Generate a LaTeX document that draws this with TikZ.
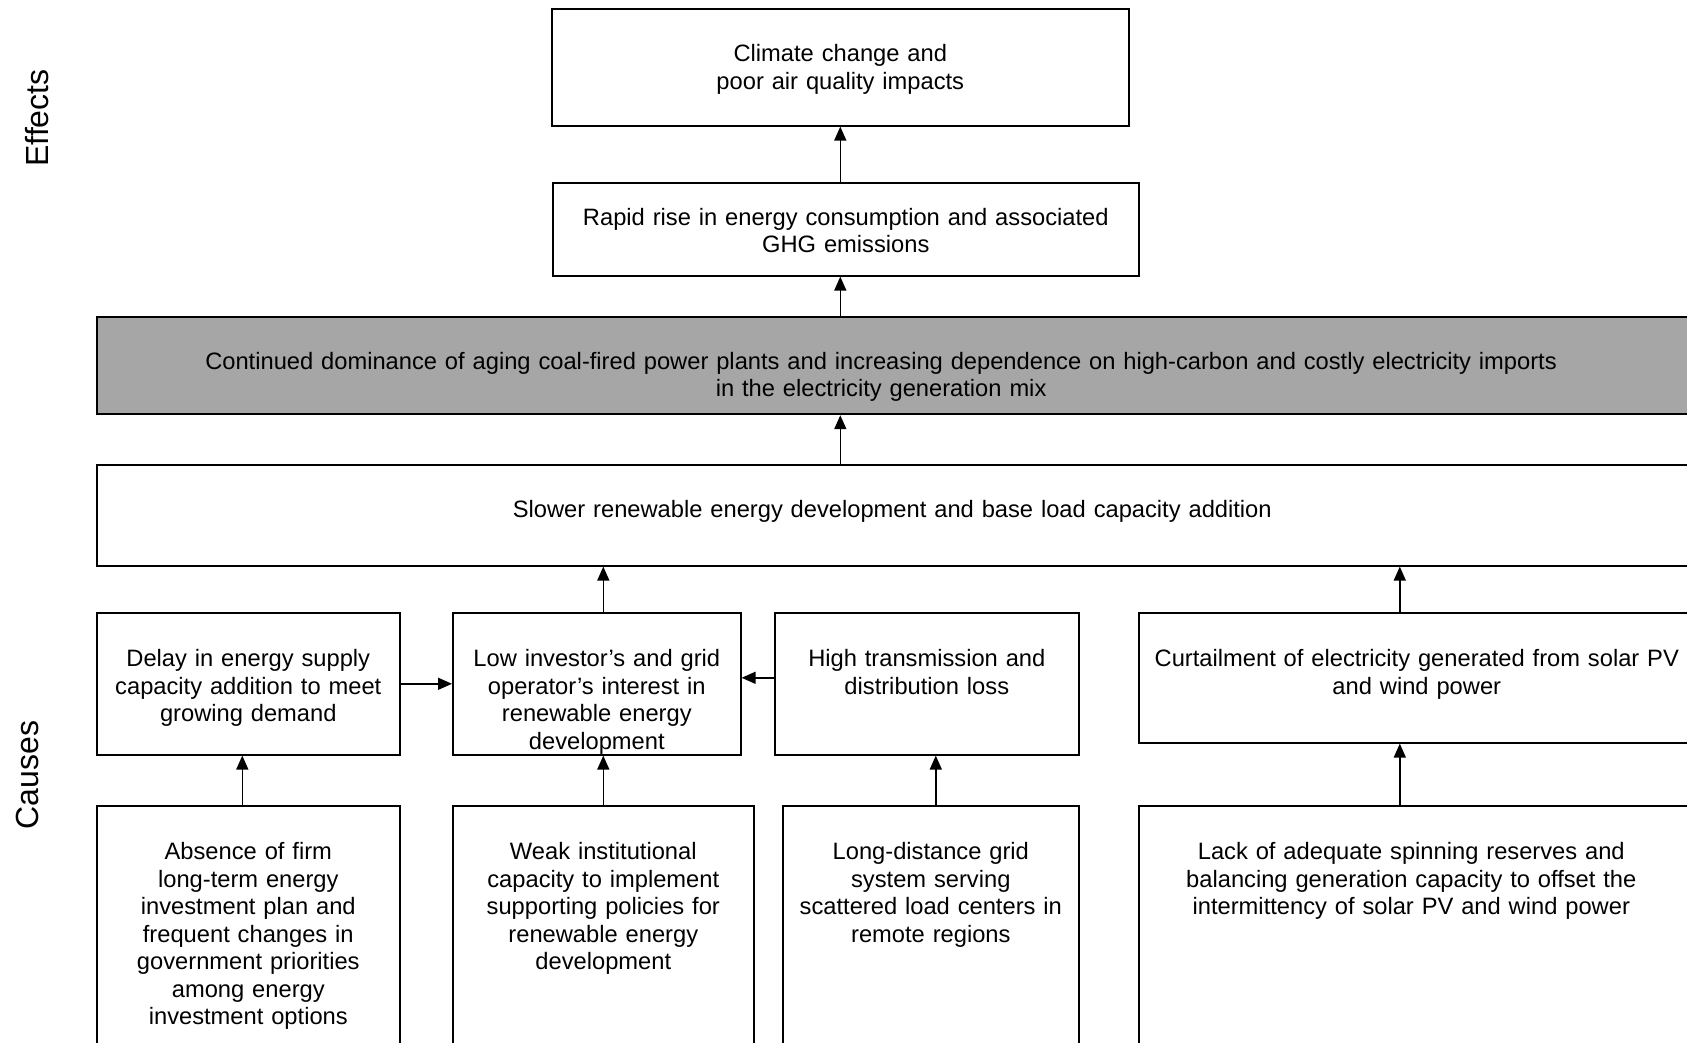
\documentclass[tikz,border=0pt]{standalone}
\usepackage{fontspec}
\setmainfont{Liberation Sans}
\usetikzlibrary{arrows.meta}
\definecolor{coalgray}{RGB}{166,166,166}
\newcommand\nudge[1]{\hspace*{-#1}}
\tikzset{
  cbox/.style={draw, line width=1.6pt, anchor=north west, align=center, inner xsep=6pt, inner ysep=0pt, font=\fontsize{23.7}{27.5}\selectfont, text height=54pt},
  upward/.style={line width=1.5pt, -{Triangle[length=14pt,width=12pt]}},
  sidelabel/.style={font=\fontsize{32}{36}\selectfont, rotate=90}
}
\begin{document}
\begin{tikzpicture}[x=1pt,y=1pt,yscale=-1]
\useasboundingbox (0,0) rectangle (1687,1042);
\clip (0,0) rectangle (1687,1042);

% Side labels
\node (effects) [sidelabel] at (37,118) {Effects};
\node (causes) [sidelabel] at (27,775) {Causes};

%Shape: Effects
\node (climate) [cbox, text width=565pt, text height=53pt, text depth=64pt] at (551,8) {Climate change and\\poor air quality impacts};
\node (rapid) [cbox, text width=574pt, text height=42.5pt, text depth=50.5pt] at (552,182) {Rapid rise in energy consumption and associated\\GHG emissions};
\node (coal) [cbox, fill=coalgray, line width=2.2pt, text width=1592pt, text height=52pt, text depth=45pt] at (96,316) {\nudge{36pt}Continued dominance of aging coal-fired power plants and increasing dependence on high-carbon and costly electricity imports\\\nudge{36pt}in the electricity generation mix};
\node (slower) [cbox, text width=1592pt, text height=53pt, text depth=48pt] at (96,464) {\nudge{13pt}Slower renewable energy development and base load capacity addition};

%Shape: Causes, first row
\node (delay) [cbox, text width=291pt, text depth=88pt] at (96,612) {Delay in energy supply\\capacity addition to meet\\growing demand};
\node (lowinv) [cbox, text width=276pt, text depth=88pt] at (452,612) {Low investor’s and grid\\operator’s interest in\\renewable energy\\development};
\node (hightd) [cbox, text width=292pt, text depth=88pt] at (774,612) {High transmission and\\distribution loss};
\node (curtail) [cbox, text width=550pt, text depth=76pt] at (1138,612) {\nudge{6pt}Curtailment of electricity generated from solar PV\\\nudge{6pt}and wind power};

%Shape: Causes, second row
\node (absence) [cbox, text width=291pt, text depth=206pt] at (96,805) {Absence of firm\\long-term energy\\investment plan and\\frequent changes in\\government priorities\\among energy\\investment options};
\node (weak) [cbox, text width=289pt, text depth=206pt] at (452,805) {Weak institutional\\capacity to implement\\supporting policies for\\renewable energy\\development};
\node (longdist) [cbox, text width=284pt, text depth=206pt] at (782,805) {Long-distance grid\\system serving\\scattered load centers in\\remote regions};
\node (lackres) [cbox, text width=550pt, text depth=206pt] at (1138,805) {\nudge{17pt}Lack of adequate spinning reserves and\\\nudge{17pt}balancing generation capacity to offset the\\\nudge{17pt}intermittency of solar PV and wind power};

%Straight Lines: arrows
\draw [upward] (rapid.north -| climate.south) -- (climate.south);
\draw [upward] (coal.north -| climate.south) -- (rapid.south -| climate.south);
\draw [upward] (slower.north -| climate.south) -- (coal.south -| climate.south);
\draw [upward] (lowinv.north -| weak.north) -- (slower.south -| weak.north);
\draw [upward] ([xshift=-20pt]curtail.north) -- ([xshift=-20pt]curtail.north |- slower.south);
\draw [upward] (delay.east) -- (delay.east -| lowinv.west);
\draw [upward] ([yshift=-6pt]hightd.west) -- ([yshift=-6pt]hightd.west -| lowinv.east);
\draw [upward] ([xshift=-6pt]absence.north) -- ([xshift=-6pt]absence.north |- delay.south);
\draw [upward] (weak.north) -- (weak.north |- lowinv.south);
\draw [upward] ([xshift=5pt]longdist.north) -- ([xshift=5pt]longdist.north |- hightd.south);
\draw [upward] ([xshift=-20pt]lackres.north) -- ([xshift=-20pt]curtail.south);

\end{tikzpicture}
\end{document}
